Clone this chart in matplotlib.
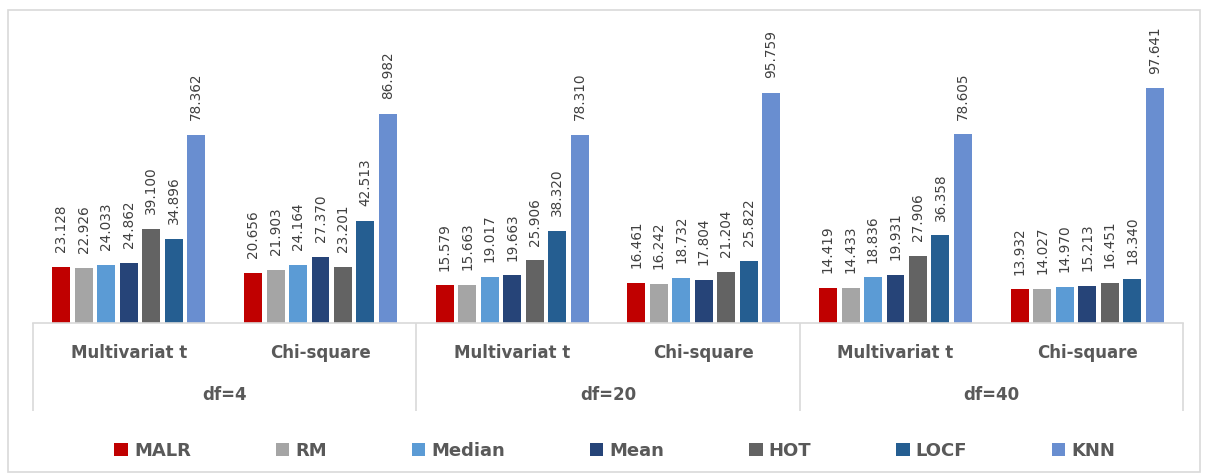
import numpy as np
import matplotlib
matplotlib.use("Agg")
import matplotlib.pyplot as plt
from matplotlib.patches import Rectangle

methods = ["MALR", "RM", "Median", "Mean", "HOT", "LOCF", "KNN"]
dists = ["Multivariat t", "Chi-square"]
groups = ["df=4", "df=20", "df=40"]

# values per method, in order: df=4 (t, chi), df=20 (t, chi), df=40 (t, chi)
malr = [23.128, 20.656, 15.579, 16.461, 14.419, 13.932]
rm = [22.926, 21.903, 15.663, 16.242, 14.433, 14.027]
median = [24.033, 24.164, 19.017, 18.732, 18.836, 14.970]
mean = [24.862, 27.370, 19.663, 17.804, 19.931, 15.213]
hot = [39.100, 23.201, 25.906, 21.204, 27.906, 16.451]
locf = [34.896, 42.513, 38.320, 25.822, 36.358, 18.340]
knn = [78.362, 86.982, 78.310, 95.759, 78.605, 97.641]

series = [malr, rm, median, mean, hot, locf, knn]
colors = ["#C00000", "#A5A5A5", "#5B9BD5", "#264478", "#636363", "#255E91", "#698ED0"]

W, H = 1208, 475
fig = plt.figure(figsize=(W / 100, H / 100), dpi=100)
ax = fig.add_axes([33 / W, (H - 322.5) / H, 1150 / W, 287.6 / H])

x = np.arange(len(malr))
pitch = 22.5 / 191.7
width = 18 / 191.7
for j, (vals, c, name) in enumerate(zip(series, colors, methods)):
    bars = ax.bar(x + (j - 3) * pitch, vals, width, color=c, label=name)
    ax.bar_label(bars, fmt="%.3f", rotation=90, padding=10.5,
                 fontsize=9.8, color="#404040")

ax.set_xlim(-0.5, len(x) - 0.5)
ax.set_ylim(0, 120)
ax.set_yticks([])
ax.set_xticks([])
for s in ["top", "left", "right"]:
    ax.spines[s].set_visible(False)
ax.spines["bottom"].set_color("#D9D9D9")
ax.spines["bottom"].set_linewidth(1.2)

# category labels
trans = ax.get_xaxis_transform()
for i in x:
    ax.text(i, -30 / 287.6, dists[i % 2], transform=trans, ha="center", va="center",
            fontsize=12, fontweight="bold", color="#595959")
for g, name in enumerate(groups):
    ax.text(2 * g + 0.5, -73 / 287.6, name, transform=trans, ha="center", va="center",
            fontsize=12, fontweight="bold", color="#595959")
ax.vlines([-0.5, 1.5, 3.5, 5.5], -88 / 287.6, 0, transform=trans, colors="#D9D9D9",
          linewidth=1.2, clip_on=False)

fig.legend(loc="center", bbox_to_anchor=(615 / W, (H - 451) / H), ncol=7, frameon=False,
           handlelength=0.75, handleheight=0.75, handletextpad=0.35, columnspacing=4.68,
           prop={"size": 13, "weight": "bold"}, labelcolor="#595959")

fig.patches.append(Rectangle((8 / W, 3 / H), 1192 / W, 462 / H, transform=fig.transFigure,
                             fill=False, edgecolor="#D9D9D9", linewidth=1.2))

fig.savefig("out.png", dpi=100)
